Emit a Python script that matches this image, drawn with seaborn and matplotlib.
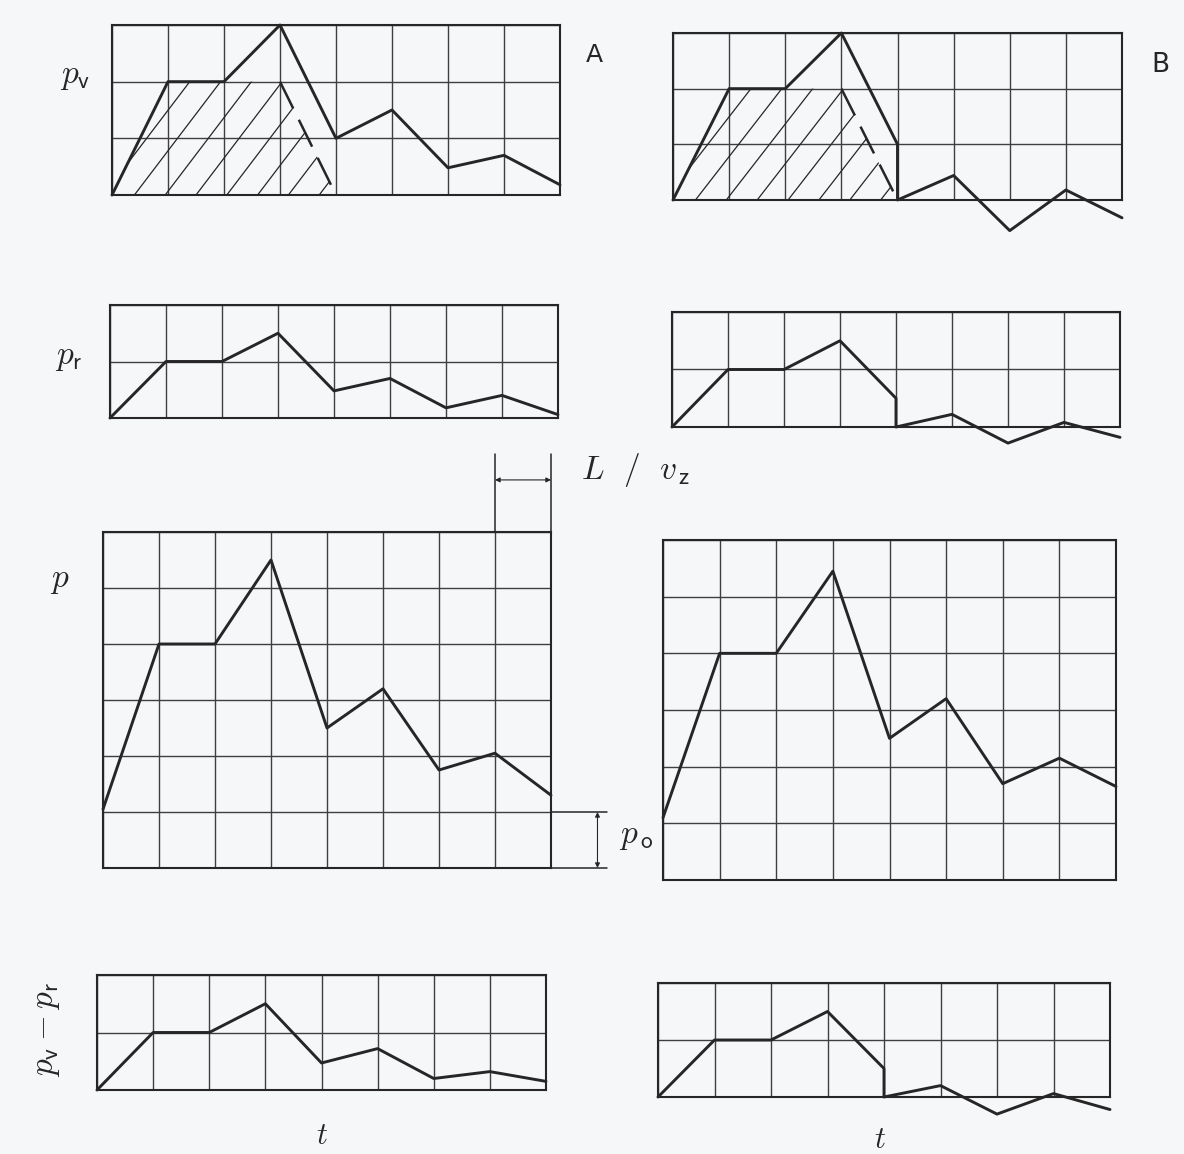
import numpy as np
import matplotlib
matplotlib.use("Agg")
import matplotlib.pyplot as plt
from matplotlib.patches import Polygon
import seaborn as sns

# time steps (grid columns)
t = [0, 1, 2, 3, 4, 5, 6, 7, 8]
t_b = [0, 1, 2, 3, 4, 4, 5, 6, 7, 8]   # case B jumps at t = 4

# case A
pv_a = [0, 2, 2, 3, 1, 1.5, 0.48, 0.7, 0.18]
pr_a = [0, 1, 1, 1.5, 0.48, 0.7, 0.18, 0.4, 0.06]
p_a = [1.05, 4, 4, 5.5, 2.5, 3.2, 1.75, 2.05, 1.3]
d_a = [0, 1, 1, 1.5, 0.47, 0.72, 0.2, 0.32, 0.15]

# case B
pv_b = [0, 2, 2, 3, 1, 0, 0.44, -0.55, 0.18, -0.32]
pr_b = [0, 1, 1, 1.5, 0.5, 0, 0.22, -0.28, 0.08, -0.18]
p_b = [1.1, 4, 4, 5.45, 2.5, 3.2, 1.7, 2.15, 1.65]
d_b = [0, 1, 1, 1.5, 0.5, 0, 0.2, -0.3, 0.06, -0.22]

# hatched area under p_v (shifted wave)
hatch_t = [0, 1, 3, 4]
hatch_p = [0, 2, 2, 0]

W, H = 1184, 1154
INK = "#262626"
GRID = "#3f3f3f"
BG = "#f6f7f9"

sns.set_theme(style="white")
plt.rcParams["font.family"] = ["DejaVu Sans"]
plt.rcParams["mathtext.fontset"] = "cm"

fig = plt.figure(figsize=(W / 100, H / 100), dpi=100, facecolor=BG)


def panel(box, rows, tt, vals):
    l, top, r, b = box
    ax = fig.add_axes([l / W, 1 - b / H, (r - l) / W, (b - top) / H])
    ax.set_facecolor("none")
    sns.lineplot(x=tt, y=vals, ax=ax, color=INK, lw=2.1, estimator=None,
                 sort=False, clip_on=False, zorder=5)
    ax.set_xlim(0, 8)
    ax.set_ylim(0, rows)
    ax.set_xticks(range(9))
    ax.set_yticks(range(rows + 1))
    ax.grid(True, color=GRID, lw=1.0)
    ax.set_axisbelow(True)
    ax.tick_params(length=0, labelbottom=False, labelleft=False)
    ax.set_xlabel("")
    ax.set_ylabel("")
    for s in ax.spines.values():
        s.set_color(INK)
        s.set_linewidth(1.5)
    return ax


def hatch(ax):
    poly = Polygon(np.column_stack([hatch_t, hatch_p]), closed=True, fill=False, lw=0)
    ax.add_patch(poly)
    xs = np.array([-1.0, 9.0])
    for c in np.arange(-0.15, 4.0, 0.55):
        ln, = ax.plot(xs, 1.3 * (xs - c), color=INK, lw=0.9)
        ln.set_clip_path(poly)
    ax.plot(hatch_t[2:], hatch_p[2:], color=INK, lw=1.8, dashes=(12, 5), zorder=4)


def label(x, y, s, size=24, **kw):
    fig.text(x / W, 1 - y / H, s, fontsize=size, color=INK, ha="center", va="center", **kw)


ax_pv_a = panel((112, 25, 560, 195), 3, t, pv_a)
hatch(ax_pv_a)
panel((110, 305, 558, 418), 2, t, pr_a)
ax_p_a = panel((103, 532, 551, 868), 6, t, p_a)
panel((97, 975, 546, 1090), 2, t, d_a)

ax_pv_b = panel((673, 33, 1122, 200), 3, t_b, pv_b)
hatch(ax_pv_b)
panel((672, 312, 1120, 427), 2, t_b, pr_b)
panel((663, 540, 1116, 880), 6, t, p_b)
panel((658, 983, 1110, 1097), 2, t_b, d_b)

# L / v_z marker above the last column of p (case A)
for xv in (7, 8):
    ax_p_a.plot([xv, xv], [6, 7.4], color=INK, lw=1.1, clip_on=False)
ax_p_a.annotate("", xy=(7, 6.93), xytext=(8, 6.93), annotation_clip=False,
                arrowprops=dict(arrowstyle="<|-|>", lw=0.8, color=INK,
                                shrinkA=0, shrinkB=0, mutation_scale=7))

# p_o marker
for yv in (0, 1):
    ax_p_a.plot([8, 9.0], [yv, yv], color=INK, lw=1.1, clip_on=False)
ax_p_a.annotate("", xy=(8.83, 0), xytext=(8.83, 1), annotation_clip=False,
                arrowprops=dict(arrowstyle="<|-|>", lw=0.8, color=INK,
                                shrinkA=0, shrinkB=0, mutation_scale=7))

label(75, 76, r"$p_{\mathsf{v}}$")
label(69, 356, r"$p_{\mathsf{r}}$")
label(60, 580, r"$p$")
label(46, 1030, r"$p_{\mathsf{v}} - p_{\mathsf{r}}$", rotation=90)
label(322, 1136, r"$t$", size=22)
label(880, 1139, r"$t$", size=22)
label(636, 470, r"$L\ \ /\ \ v_{\,\mathsf{z}}$")
label(636, 836, r"$p_{\,\mathsf{o}}$")
label(594, 55, "A", size=18)
label(1160, 65, "B", size=19)

fig.savefig("out.png", dpi=100, facecolor=BG)
